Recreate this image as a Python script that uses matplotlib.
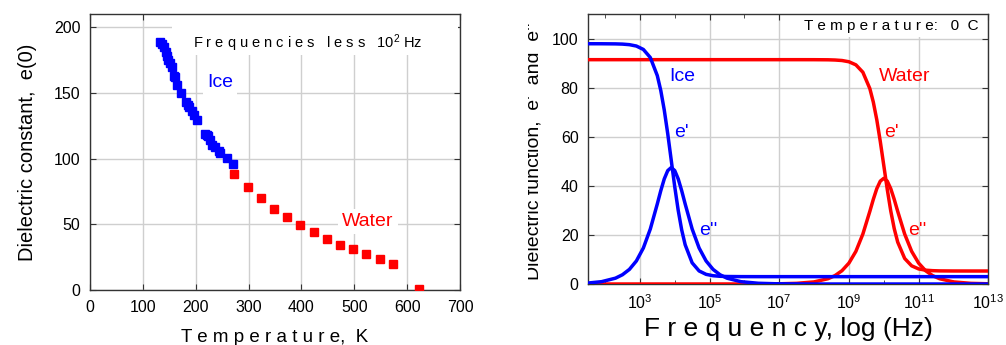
import matplotlib
matplotlib.use("Agg")
import matplotlib.pyplot as plt
import numpy as np
from matplotlib.patches import Rectangle
from matplotlib.ticker import FixedLocator, FuncFormatter, NullFormatter
from matplotlib.transforms import Bbox, TransformedBbox

plt.rcParams['font.family'] = ['Liberation Sans', 'DejaVu Sans']
plt.rcParams['mathtext.default'] = 'regular'

# static dielectric constant vs temperature
ice_T = [133, 137, 140, 143, 145, 148, 152, 155, 158, 160, 164, 173, 182, 185,
         188, 192, 197, 202, 218, 221, 224, 227, 231, 236, 244, 246, 259, 271]
ice_eps = [189, 187, 185, 181, 178, 175, 173, 170, 163, 162, 156, 150, 143, 141,
           139, 136.5, 133, 129, 119, 118, 117, 114, 110, 108.5, 106, 104, 100.5, 96]
water_T = [273, 298, 323, 348, 373, 398, 423, 448, 473, 498, 523, 548, 573, 623]
water_eps = [88, 78.5, 70, 62, 55.5, 49.5, 44, 39, 34.5, 31, 27.5, 23.5, 20, 1]

# dielectric function at 0 C, log10 of frequency (Hz)
ice_logf = [1.5, 1.9, 2.3, 2.5, 2.7, 2.9, 3.1, 3.3, 3.5, 3.6, 3.7, 3.8, 3.9,
            4.0, 4.1, 4.2, 4.3, 4.5, 4.7, 4.9, 5.1, 5.3, 5.5, 5.9, 6.4, 6.9,
            8.0, 13.0]
ice_e1 = [98.0, 97.99, 97.94, 97.85, 97.62, 97.06, 95.67, 92.36, 85.0, 78.92,
          70.95, 61.25, 50.5, 39.75, 30.05, 22.08, 16.0, 8.64, 5.33, 3.94, 3.38,
          3.15, 3.06, 3.01, 3.0, 3.0, 3.0, 3.0]
ice_e2 = [0.38, 0.95, 2.38, 3.78, 5.97, 9.41, 14.69, 22.45, 32.65, 38.06, 42.87,
          46.25, 47.5, 46.27, 42.87, 38.06, 32.65, 22.45, 14.69, 9.41, 5.97, 3.78,
          2.38, 0.95, 0.30, 0.1, 0.0, 0.0]
water_logf = [1.5, 6.0, 7.0, 7.5, 8.0, 8.4, 8.6, 8.8, 9.0, 9.2, 9.4, 9.6, 9.7,
              9.8, 9.9, 10.0, 10.1, 10.2, 10.3, 10.4, 10.6, 10.8, 11.0, 11.2,
              11.4, 11.6, 12.0, 12.5, 13.0]
water_e1 = [91.5, 91.5, 91.5, 91.5, 91.49, 91.45, 91.36, 91.16, 90.65, 89.39,
            86.38, 79.71, 74.19, 66.96, 58.15, 48.4, 38.64, 29.84, 22.61, 17.09,
            10.42, 7.41, 6.15, 5.64, 5.44, 5.35, 5.31, 5.3, 5.3]
water_e2 = [0.0, 0.01, 0.09, 0.27, 0.86, 2.16, 3.43, 5.42, 8.53, 13.33, 20.37,
            29.63, 34.53, 38.9, 41.96, 43.1, 41.98, 38.9, 34.53, 29.63, 20.37,
            13.33, 8.53, 5.42, 3.43, 2.16, 0.86, 0.27, 0.09]

blue = '#0000ff'
red = '#ff0000'

fig = plt.figure(figsize=(10.06, 3.45), dpi=100)
ax1 = fig.add_axes([0.0895, 0.1594, 0.3678, 0.80])
ax2 = fig.add_axes([0.5848, 0.1768, 0.3976, 0.7817])

for ax in (ax1, ax2):
    ax.set_axisbelow(True)
    ax.grid(True, which='major', color='#cfcfcf', lw=1.0)
    ax.tick_params(which='both', direction='in', top=True, right=True,
                   labelsize=11.5, pad=7, color='#333333')
    ax.tick_params(which='major', length=4)
    ax.tick_params(which='minor', length=3)
    for s in ax.spines.values():
        s.set_color('#333333')
        s.set_linewidth(1.0)

# left panel
ax1.set_xlim(0, 700)
ax1.set_ylim(0, 210)
ax1.set_xticks(np.arange(0, 701, 100))
ax1.set_yticks(np.arange(0, 201, 50))
ax1.add_patch(Rectangle((0.222, 0.851), 0.773, 0.149, transform=ax1.transAxes,
                        facecolor='white', edgecolor='none', zorder=1))
ax1.plot(ice_T, ice_eps, 's', color=blue, ms=5.5, mec=blue, zorder=3)
ax1.plot(water_T, water_eps, 's', color=red, ms=5.5, mec=red, zorder=3)
ax1.text(195, 188, 'F r e q u e n c i e s   l e s s   10$^2$ Hz', fontsize=10.5,
         va='center', ha='left', zorder=4)
ax1.text(246, 158, 'Ice', color=blue, fontsize=14, ha='center', va='center',
         bbox=dict(facecolor='white', edgecolor='none', pad=3), zorder=2)
ax1.text(526, 52, 'Water', color=red, fontsize=14, ha='center', va='center',
         bbox=dict(facecolor='white', edgecolor='none', pad=3), zorder=2)
ax1.set_xlabel('T e m p e r a t u r e,  K', fontsize=13.5, labelpad=10)
ax1.set_ylabel('Dielectric constant,  e(0)', fontsize=14.5, labelpad=12)

# right panel
ax2.set_xscale('log')
ax2.set_xlim(10 ** 1.52, 1e13)
ax2.set_ylim(0, 110)
ax2.set_yticks(np.arange(0, 101, 20))
ax2.xaxis.set_major_locator(FixedLocator([10.0 ** k for k in range(3, 14, 2)]))
ax2.xaxis.set_minor_locator(FixedLocator([10.0 ** k for k in range(2, 13, 2)]))
ax2.xaxis.set_major_formatter(FuncFormatter(lambda v, p: '10$^{%d}$' % round(np.log10(v))))
ax2.xaxis.set_minor_formatter(NullFormatter())
ax2.add_patch(Rectangle((0.487, 0.916), 0.508, 0.084, transform=ax2.transAxes,
                        facecolor='white', edgecolor='none', zorder=1))

ax2.plot(10.0 ** np.array(water_logf), water_e2, color=red, lw=2.5, zorder=3)
ax2.plot(10.0 ** np.array(water_logf), water_e1, color=red, lw=2.5, zorder=3)
ax2.plot(10.0 ** np.array(ice_logf), ice_e2, color=blue, lw=2.5, zorder=3)
ax2.plot(10.0 ** np.array(ice_logf), ice_e1, color=blue, lw=2.5, zorder=3)

ax2.text(10 ** 4.22, 84.5, 'Ice', color=blue, fontsize=14, ha='center', va='center')
ax2.text(10 ** 10.6, 84.5, 'Water', color=red, fontsize=14, ha='center', va='center')
ax2.text(10 ** 4.19, 61.6, "e'", color=blue, fontsize=14, ha='center', va='center')
ax2.text(10 ** 4.97, 22, "e''", color=blue, fontsize=14, ha='center', va='center')
ax2.text(10 ** 10.22, 61.6, "e'", color=red, fontsize=14, ha='center', va='center')
ax2.text(10 ** 10.97, 22, "e''", color=red, fontsize=14, ha='center', va='center')
ax2.text(0.975, 0.955, 'T e m p e r a t u r e:   0  C', transform=ax2.transAxes,
         fontsize=11, ha='right', va='center', zorder=4)
ax2.set_xlabel('F r e q u e n c y, log (Hz)', fontsize=19, labelpad=3)

ylab = fig.text(534 / 1006, 1 - 151 / 345, "Dielectric function,  e'  and  e''",
                rotation=90, fontsize=14, ha='center', va='center')
ylab.set_clip_box(TransformedBbox(Bbox([[528 / 1006, 0.0], [0.56, 0.97]]),
                                  fig.transFigure))
ylab.set_clip_on(True)

fig.savefig('out.png', dpi=100)
